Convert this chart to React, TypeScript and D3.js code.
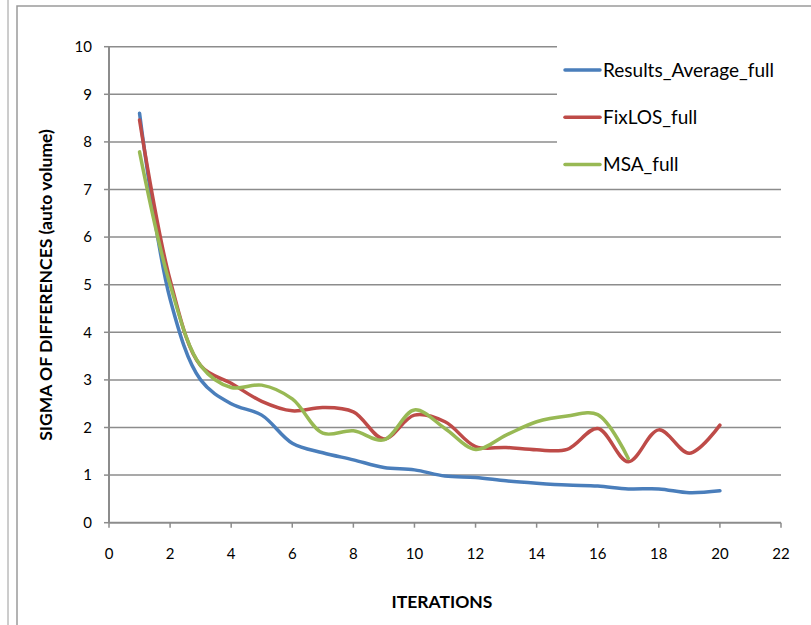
import React from "react";
import * as d3 from "d3";

// Iteration index for every series point
const iterations = [1, 2, 3, 4, 5, 6, 7, 8, 9, 10, 11, 12, 13, 14, 15, 16, 17, 18, 19, 20];

// Sigma of differences per iteration
const resultsAverageFull = [8.6, 4.7, 3.0, 2.5, 2.26, 1.67, 1.47, 1.32, 1.16, 1.11, 0.98, 0.95, 0.88, 0.83, 0.79, 0.77, 0.71, 0.71, 0.63, 0.67];
const fixLosFull = [8.46, 5.1, 3.3, 2.93, 2.55, 2.35, 2.42, 2.33, 1.76, 2.26, 2.12, 1.6, 1.58, 1.53, 1.54, 1.98, 1.28, 1.95, 1.46, 2.05];
const msaFull = [7.79, 5.0, 3.3, 2.84, 2.89, 2.6, 1.88, 1.93, 1.74, 2.37, 1.98, 1.54, 1.84, 2.12, 2.24, 2.27, 1.35];

const seriesNames = ["Results_Average_full", "FixLOS_full", "MSA_full"];
const seriesColors = ["#4A7EBB", "#BE4B48", "#98B954"];

const xTicks = [0, 2, 4, 6, 8, 10, 12, 14, 16, 18, 20, 22];
const yTicks = [0, 1, 2, 3, 4, 5, 6, 7, 8, 9, 10];

const W = 811;
const H = 625;
const FONT = "Lato, 'Open Sans', sans-serif";
const GRID = "#8C8C8C";

export default function App() {
  const x = d3.scaleLinear().domain([0, 22]).range([109, 781]);
  const y = d3.scaleLinear().domain([0, 10]).range([522.7, 46.7]);

  const line = d3
    .line<number>()
    .x((_, i) => x(iterations[i]))
    .y((d) => y(d))
    .curve(d3.curveCatmullRom.alpha(0.5));

  const series = [resultsAverageFull, fixLosFull, msaFull];
  const [x0, x1] = x.range();

  return (
    <svg
      width={W}
      height={H}
      style={{ position: "absolute", left: 0, top: 0, background: "#fff" }}
    >
      {/* outer frames */}
      <line x1={8} y1={0} x2={8} y2={H} stroke="#9a9a9a" strokeWidth={1} />
      <path d={`M17,${H} L17,6 L${W},6`} fill="none" stroke="#9a9a9a" strokeWidth={1.5} />

      {/* horizontal gridlines */}
      {yTicks.slice(1).map((t) => (
        <line key={t} x1={x0} x2={x1} y1={y(t)} y2={y(t)} stroke={GRID} strokeWidth={1.5} />
      ))}

      {/* axes */}
      <line x1={x0} x2={x0} y1={y(10)} y2={y(0)} stroke={GRID} strokeWidth={2} />
      <line x1={x0} x2={x1} y1={y(0)} y2={y(0)} stroke={GRID} strokeWidth={2} />
      {yTicks.map((t) => (
        <line key={t} x1={x0 - 5} x2={x0} y1={y(t)} y2={y(t)} stroke={GRID} strokeWidth={1.5} />
      ))}
      {xTicks.map((t) => (
        <line key={t} x1={x(t)} x2={x(t)} y1={y(0)} y2={y(0) + 5} stroke={GRID} strokeWidth={1.5} />
      ))}

      {/* tick labels */}
      {yTicks.map((t) => (
        <text key={t} x={92} y={y(t)} dy="0.35em" textAnchor="end" fontFamily={FONT} fontSize={15} fill="#000">
          {t}
        </text>
      ))}
      {xTicks.map((t) => (
        <text key={t} x={x(t)} y={554} dy="0.35em" textAnchor="middle" fontFamily={FONT} fontSize={15} fill="#000">
          {t}
        </text>
      ))}

      {/* axis titles */}
      <text
        transform={`translate(52,285) rotate(-90)`}
        textAnchor="middle"
        fontFamily={FONT}
        fontWeight="bold"
        fontSize={17.5}
        fill="#000"
      >
        SIGMA OF DIFFERENCES (auto volume)
      </text>
      <text x={442} y={602} dy="0.35em" textAnchor="middle" fontFamily={FONT} fontWeight="bold" fontSize={17.5} fill="#000">
        ITERATIONS
      </text>

      {/* series */}
      {series.map((s, i) => (
        <path
          key={seriesNames[i]}
          d={line(s) ?? ""}
          fill="none"
          stroke={seriesColors[i]}
          strokeWidth={3.5}
          strokeLinecap="round"
          strokeLinejoin="round"
        />
      ))}

      {/* legend */}
      <rect x={557} y={40} width={230} height={146} fill="#fff" />
      {seriesNames.map((name, i) => {
        const ly = 70 + i * 47.3;
        return (
          <g key={name}>
            <line x1={565} x2={600} y1={ly} y2={ly} stroke={seriesColors[i]} strokeWidth={3.5} strokeLinecap="round" />
            <text x={603} y={ly} dy="0.35em" fontFamily={FONT} fontSize={19} fill="#000">
              {name}
            </text>
          </g>
        );
      })}
    </svg>
  );
}
